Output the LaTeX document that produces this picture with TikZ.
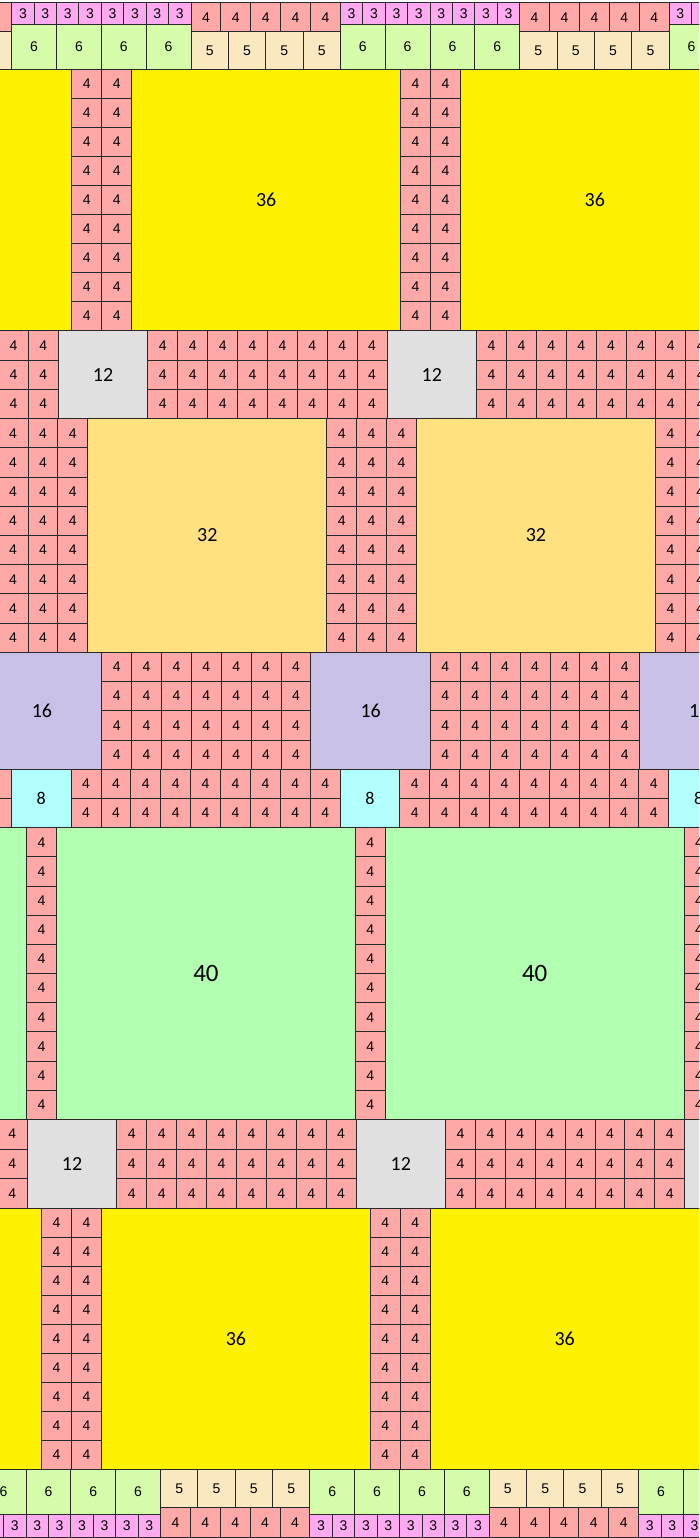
\documentclass[tikz,border=0pt]{standalone}
\usepackage{fontspec}
\setmainfont{Liberation Sans}
\newfontfamily\calfont{Carlito}
\definecolor{cthree}{HTML}{FFAAF0}
\definecolor{cfour}{HTML}{FFA8A8}
\definecolor{cfive}{HTML}{FAE8C0}
\definecolor{csix}{HTML}{D5FDA9}
\definecolor{cthirtysix}{HTML}{FFF200}
\definecolor{ctwelve}{HTML}{E0E0E0}
\definecolor{cthirtytwo}{HTML}{FFE180}
\definecolor{csixteen}{HTML}{C8C0E6}
\definecolor{ceight}{HTML}{B2FFFF}
\definecolor{cforty}{HTML}{B2FFB2}
\definecolor{gridline}{HTML}{282828}
\def\per{328.7}
\def\uu{7.4705}
% grid of equal small tiles: x0, y0, ncols, nrows, w, h, colour, label
\newcommand\tgrid[8]{%
  \foreach \ii in {1,...,#3}{%
    \foreach \jj in {1,...,#4}{%
      \pgfmathsetmacro\xa{#1+(\ii-1)*#5}%
      \pgfmathsetmacro\ya{#2+(\jj-1)*#6}%
      \pgfmathsetmacro\xe{\xa+#5}%
      \pgfmathtruncatemacro\inside{and(\xe>0,\xa<699)}%
      \ifnum\inside=1
        \draw[tileline, fill=#7] (\xa,\ya) rectangle ++(#5,#6);
        \pgfmathsetmacro\cx{\xa+#5/2}%
        \pgfmathtruncatemacro\vis{and(\cx>0,\cx<702)}%
        \ifnum\vis=1
          \node[smalllab] at (\cx,\ya+#6/2) {#8};
        \fi
      \fi
    }%
  }%
}
% one big tile: x0, y0, w, h, colour, label, label style
\newcommand\bigt[7]{%
  \pgfmathsetmacro\xe{#1+#3}%
  \pgfmathtruncatemacro\inside{and(\xe>0,#1<699)}%
  \ifnum\inside=1
    \draw[tileline, fill=#5] (#1,#2) rectangle ++(#3,#4);
    \pgfmathsetmacro\cx{#1+#3/2}%
    \pgfmathtruncatemacro\vis{and(\cx>-12,\cx<712)}%
    \ifnum\vis=1
      \node[#7] at (\cx,#2+#4/2) {#6};
    \fi
  \fi
}
\begin{document}
\begin{tikzpicture}[x=1pt,y=-1pt,
  tileline/.style={draw=gridline, line width=0.9pt},
  smalllab/.style={inner sep=0pt, font=\fontsize{14}{15}\selectfont},
  biglab/.style={inner sep=0pt, font=\calfont\fontsize{20}{22}\selectfont},
  midlab/.style={inner sep=0pt, font=\calfont\fontsize{18}{20}\selectfont},
  hugelab/.style={inner sep=0pt, font=\calfont\fontsize{25}{27}\selectfont}]
\useasboundingbox (0,0) rectangle (699,1538);
\fill[white] (0,0) rectangle (699,1538);
\clip (0,0) rectangle (699,1538);
\foreach \k in {-1,0,1,2}{
  % top rows
  \pgfmathsetmacro\bx{11.7+\k*\per}
  \tgrid{\bx}{2.7}{8}{1}{3*\uu}{21.6}{cthree}{3}
  \tgrid{\bx}{24.3}{4}{1}{6*\uu}{44.7}{csix}{6}
  \tgrid{\bx+24*\uu}{2.7}{5}{1}{4*\uu}{29}{cfour}{4}
  \tgrid{\bx+24*\uu}{31.7}{4}{1}{5*\uu}{37.3}{cfive}{5}
  % 36 band
  \pgfmathsetmacro\bx{71.9+\k*\per}
  \tgrid{\bx}{69}{2}{9}{4*\uu}{29.078}{cfour}{4}
  \bigt{\bx+8*\uu}{69}{36*\uu}{261.7}{cthirtysix}{36}{biglab}
  % 12 band
  \pgfmathsetmacro\bx{58.3+\k*\per}
  \bigt{\bx}{330.7}{12*\uu}{88}{ctwelve}{12}{biglab}
  \tgrid{\bx+12*\uu}{330.7}{8}{3}{4*\uu}{29.333}{cfour}{4}
  % 32 band
  \pgfmathsetmacro\bx{-1.9+\k*\per}
  \tgrid{\bx}{418.7}{3}{8}{4*\uu}{29.2}{cfour}{4}
  \bigt{\bx+12*\uu}{418.7}{32*\uu}{233.6}{cthirtytwo}{32}{biglab}
  % 16 band
  \pgfmathsetmacro\bx{-17.8+\k*\per}
  \bigt{\bx}{652.3}{16*\uu}{117}{csixteen}{16}{biglab}
  \tgrid{\bx+16*\uu}{652.3}{7}{4}{4*\uu}{29.25}{cfour}{4}
  % 8 band
  \pgfmathsetmacro\bx{11.4+\k*\per}
  \bigt{\bx}{769.3}{8*\uu}{58.4}{ceight}{8}{midlab}
  \tgrid{\bx+8*\uu}{769.3}{9}{2}{4*\uu}{29.2}{cfour}{4}
  % 40 band
  \pgfmathsetmacro\bx{26.7+\k*\per}
  \tgrid{\bx}{827.7}{1}{10}{4*\uu}{29.16}{cfour}{4}
  \bigt{\bx+4*\uu}{827.7}{40*\uu}{291.6}{cforty}{40}{hugelab}
  % lower 12 band
  \pgfmathsetmacro\bx{27.3+\k*\per}
  \bigt{\bx}{1119.3}{12*\uu}{89}{ctwelve}{12}{biglab}
  \tgrid{\bx+12*\uu}{1119.3}{8}{3}{4*\uu}{29.667}{cfour}{4}
  % lower 36 band
  \pgfmathsetmacro\bx{41.7+\k*\per}
  \tgrid{\bx}{1208.3}{2}{9}{4*\uu}{29}{cfour}{4}
  \bigt{\bx+8*\uu}{1208.3}{36*\uu}{261}{cthirtysix}{36}{biglab}
  % bottom rows
  \pgfmathsetmacro\bx{-18.8+\k*\per}
  \tgrid{\bx}{1469.3}{4}{1}{6*\uu}{44.7}{csix}{6}
  \tgrid{\bx}{1514}{8}{1}{3*\uu}{23.5}{cthree}{3}
  \tgrid{\bx+24*\uu}{1469.3}{4}{1}{5*\uu}{38}{cfive}{5}
  \tgrid{\bx+24*\uu}{1507.3}{5}{1}{4*\uu}{30}{cfour}{4}
}
\end{tikzpicture}
\end{document}
